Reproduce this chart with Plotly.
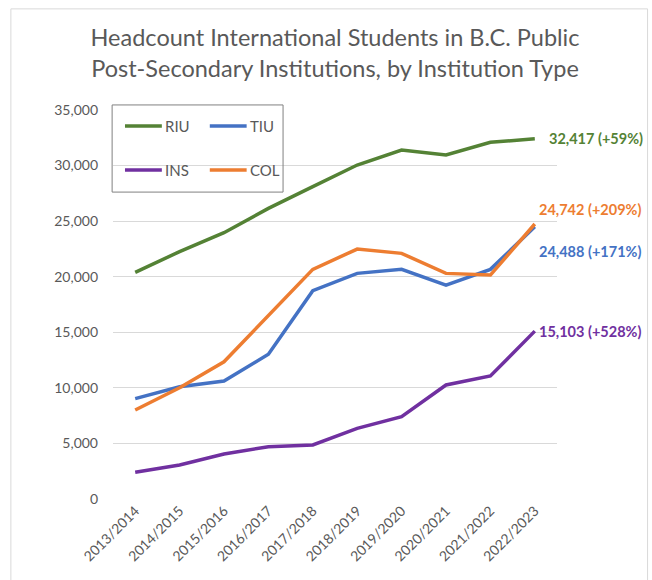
import plotly.graph_objects as go

# Academic years on the category axis
years = ["2013/2014", "2014/2015", "2015/2016", "2016/2017", "2017/2018",
         "2018/2019", "2019/2020", "2020/2021", "2021/2022", "2022/2023"]

# International student headcount by institution type
riu = [20388, 22260, 23960, 26150, 28100, 30050, 31400, 30950, 32090, 32417]
tiu = [9036, 10100, 10620, 13020, 18740, 20300, 20660, 19250, 20660, 24488]
ins = [2405, 3060, 4050, 4710, 4860, 6360, 7410, 10260, 11070, 15103]
col = [8007, 10010, 12350, 16550, 20660, 22490, 22100, 20300, 20150, 24742]

series = [
    ("RIU", riu, "#548235"),
    ("TIU", tiu, "#4472C4"),
    ("INS", ins, "#7030A0"),
    ("COL", col, "#ED7D31"),
]

FONT = "Lato"
GREY = "#595959"

fig = go.Figure()
for name, vals, color in series:
    fig.add_trace(go.Scatter(
        x=years, y=vals, name=name, mode="lines",
        line=dict(color=color, width=3.5),
        showlegend=False,
    ))

# End-of-series value labels with growth since the first year
label_shift = {"RIU": 0, "TIU": -25, "INS": 0, "COL": 15}
for name, vals, color in series:
    pct = round((vals[-1] / vals[0] - 1) * 100)
    fig.add_annotation(
        x=years[-1], y=vals[-1], xref="x", yref="y",
        text=f"{vals[-1]:,} (+{pct}%)",
        showarrow=False, xanchor="left", yanchor="middle",
        xshift=2 if name != "RIU" else 12, yshift=label_shift[name],
        font=dict(family=FONT, size=14.5, color=color, weight="bold"),
    )

# Boxed two-column legend inside the plot area
fig.add_shape(type="rect", xref="paper", yref="paper",
              x0=-0.002, x1=0.383, y0=0.789, y1=1.013,
              line=dict(color="#808080", width=1), fillcolor="rgba(0,0,0,0)")
legend_pos = {"RIU": (0.027, 0.959), "TIU": (0.218, 0.959),
              "INS": (0.027, 0.846), "COL": (0.218, 0.846)}
for name, vals, color in series:
    lx, ly = legend_pos[name]
    fig.add_shape(type="line", xref="paper", yref="paper",
                  x0=lx, x1=lx + 0.083, y0=ly, y1=ly,
                  line=dict(color=color, width=3.5))
    fig.add_annotation(x=lx + 0.085, y=ly, xref="paper", yref="paper",
                       text=name, showarrow=False, xanchor="left", yanchor="middle",
                       font=dict(family=FONT, size=15, color=GREY))

# Light outer frame of the chart area
fig.add_shape(type="rect", xref="paper", yref="paper",
              x0=-0.23, x1=1.204, y0=-0.3, y1=1.26,
              line=dict(color="#D9D9D9", width=1), fillcolor="rgba(0,0,0,0)", layer="below")

fig.update_layout(
    width=652, height=580,
    margin=dict(l=113, r=95, t=110, b=81),
    paper_bgcolor="white", plot_bgcolor="white",
    title=dict(
        text="Headcount International Students in B.C. Public<br>Post-Secondary Institutions, by Institution Type",
        x=0.5, xref="paper", xanchor="center",
        y=0.92, yref="container", yanchor="top",
        font=dict(family=FONT, size=23.5, color=GREY),
    ),
    xaxis=dict(
        type="category", range=[-0.5, 9.5], tickangle=-45,
        showgrid=False, showline=False, ticks="",
        tickfont=dict(family=FONT, size=14, color=GREY),
    ),
    yaxis=dict(
        range=[0, 35000], dtick=5000, tickformat=",",
        showgrid=True, gridcolor="#D9D9D9", gridwidth=1,
        zeroline=False, showline=False, ticks="",
        tickfont=dict(family=FONT, size=14, color=GREY),
        ticklabelstandoff=14,
    ),
)

fig.write_html("out.html")
